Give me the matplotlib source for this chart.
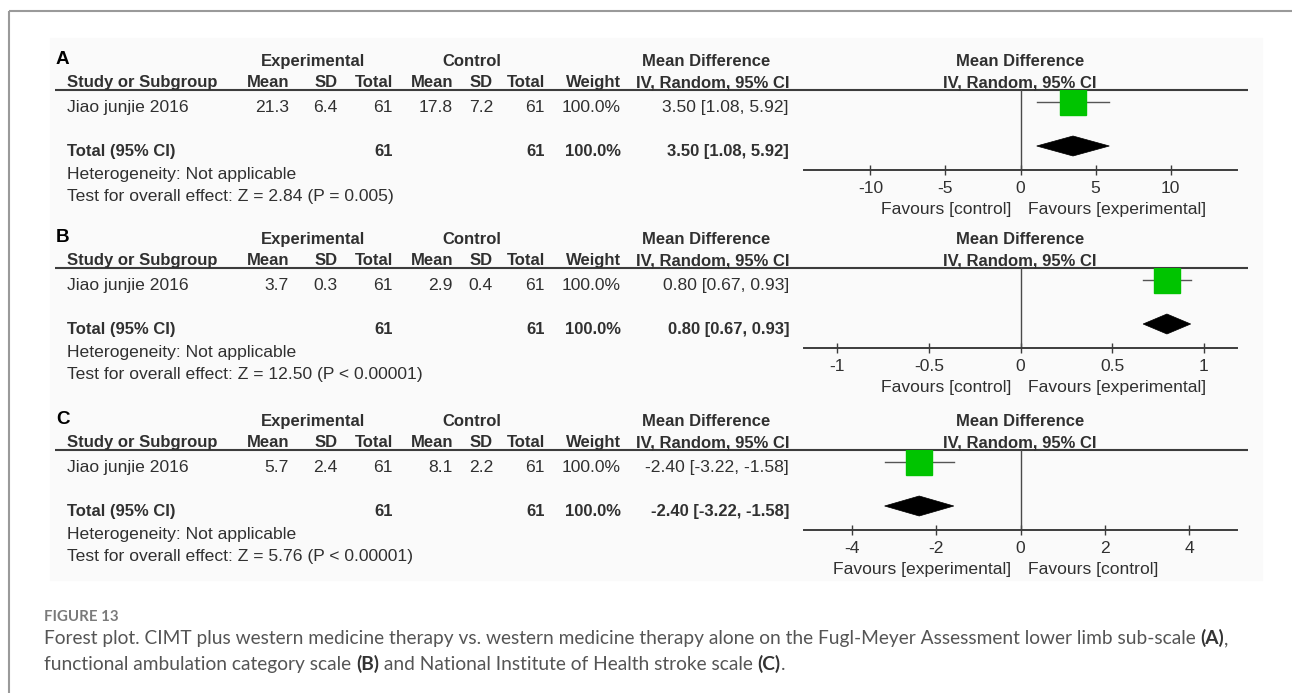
import matplotlib
matplotlib.use("Agg")
import matplotlib.pyplot as plt
from matplotlib.patches import Polygon, Rectangle

plt.rcParams["font.family"] = ["Liberation Sans", "DejaVu Sans"]

# ---- data: one row per outcome (A, B, C) ----
panel_ids = ["A", "B", "C"]
study = "Jiao junjie 2016"
exp_mean = [21.3, 3.7, 5.7]
exp_sd = [6.4, 0.3, 2.4]
exp_n = [61, 61, 61]
ctl_mean = [17.8, 2.9, 8.1]
ctl_sd = [7.2, 0.4, 2.2]
ctl_n = [61, 61, 61]
weight = [100.0, 100.0, 100.0]
md = [3.50, 0.80, -2.40]
ci_lo = [1.08, 0.67, -3.22]
ci_hi = [5.92, 0.93, -1.58]
overall = ["Z = 2.84 (P = 0.005)", "Z = 12.50 (P < 0.00001)", "Z = 5.76 (P < 0.00001)"]
tick_vals = [[-10, -5, 0, 5, 10], [-1, -0.5, 0, 0.5, 1], [-4, -2, 0, 2, 4]]
tick_txt = [["-10", "-5", "0", "5", "10"], ["-1", "-0.5", "0", "0.5", "1"], ["-4", "-2", "0", "2", "4"]]
x_half = [14.43, 1.183, 5.13]
fav_left = ["Favours [control]", "Favours [control]", "Favours [experimental]"]
fav_right = ["Favours [experimental]", "Favours [experimental]", "Favours [control]"]

caption_title = "FIGURE 13"
caption_1 = [("Forest plot. CIMT plus western medicine therapy vs. western medicine therapy alone on the "
              "Fugl-Meyer Assessment lower limb sub-scale ", False), ("(A)", True), (",", False)]
caption_2 = [("functional ambulation category scale ", False), ("(B)", True),
             (" and National Institute of Health stroke scale ", False), ("(C)", True), (".", False)]

# ---- layout (pixels) ----
W, H = 1292, 693
header_y = [90, 268, 450]
AX_L, AX_R = 804, 1237
AX_H = 80
TXT = "#303030"
LINE = "#3c3c3c"
GREEN = "#00c400"
FS = 12.6
FSB = 12.0

fig = plt.figure(figsize=(W / 100, H / 100), dpi=100)
base = fig.add_axes([0, 0, 1, 1])
base.set_xlim(0, W)
base.set_ylim(H, 0)
base.axis("off")

# page frame and light panel behind the forest plots
base.plot([9, 9], [11, H], color="#9a9a9a", lw=1.5, solid_capstyle="butt")
base.plot([9, W], [11, 11], color="#9a9a9a", lw=1.5, solid_capstyle="butt")
base.add_patch(Rectangle((50, 38), 1212, 542, color="#fafafa", zorder=0))


def put(x, y, s, ha="left", bold=False, size=None, color=TXT):
    base.text(x, y, s, ha=ha, va="baseline", color=color,
              fontsize=size or (FSB if bold else FS),
              fontweight="bold" if bold else "normal")


for i, h in enumerate(header_y):
    # letters and group titles
    put(56, h - 26, panel_ids[i], bold=True, size=13.6, color="black")
    put(313, h - 24, "Experimental", ha="center", bold=True)
    put(472, h - 24, "Control", ha="center", bold=True)
    put(706, h - 24, "Mean Difference", ha="center", bold=True)
    put(1020, h - 24, "Mean Difference", ha="center", bold=True)

    cols = [(67, "Study or Subgroup", "left"), (289, "Mean", "right"), (338, "SD", "right"),
            (393, "Total", "right"), (453, "Mean", "right"), (493, "SD", "right"),
            (545, "Total", "right"), (621, "Weight", "right"), (789, "IV, Random, 95% CI", "right")]
    for x, s, ha in cols:
        put(x, h - 3, s, ha=ha, bold=True)
    put(1020, h - 3, "IV, Random, 95% CI", ha="center", bold=True)
    base.plot([55, 1248], [h, h], color=LINE, lw=1.5, solid_capstyle="butt")

    ci_txt = f"{md[i]:.2f} [{ci_lo[i]:.2f}, {ci_hi[i]:.2f}]"
    # study row
    put(67, h + 22, study)
    put(289, h + 22, f"{exp_mean[i]:.1f}", ha="right")
    put(338, h + 22, f"{exp_sd[i]:.1f}", ha="right")
    put(393, h + 22, str(exp_n[i]), ha="right")
    put(453, h + 22, f"{ctl_mean[i]:.1f}", ha="right")
    put(493, h + 22, f"{ctl_sd[i]:.1f}", ha="right")
    put(545, h + 22, str(ctl_n[i]), ha="right")
    put(621, h + 22, f"{weight[i]:.1f}%", ha="right")
    put(789, h + 22, ci_txt, ha="right")
    # total row
    put(67, h + 66, "Total (95% CI)", bold=True)
    put(393, h + 66, str(exp_n[i]), ha="right", bold=True)
    put(545, h + 66, str(ctl_n[i]), ha="right", bold=True)
    put(621, h + 66, f"{weight[i]:.1f}%", ha="right", bold=True)
    put(789, h + 66, ci_txt, ha="right", bold=True)
    put(67, h + 89, "Heterogeneity: Not applicable")
    put(67, h + 111, "Test for overall effect: " + overall[i])

    # forest plot
    pa = fig.add_axes([AX_L / W, 1 - (h + AX_H) / H, (AX_R - AX_L) / W, AX_H / H])
    pa.set_xlim(-x_half[i], x_half[i])
    pa.set_ylim(AX_H, 0)
    pa.patch.set_alpha(0)
    for sp in ["top", "left", "right"]:
        pa.spines[sp].set_visible(False)
    pa.spines["bottom"].set_color(LINE)
    pa.spines["bottom"].set_linewidth(1.4)
    pa.set_yticks([])
    pa.set_xticks(tick_vals[i], tick_txt[i])
    pa.tick_params(axis="x", direction="inout", length=7.5, width=1.0, color=LINE,
                   labelsize=FS, labelcolor=TXT, pad=4.5)
    pa.axvline(0, color="#4a4a4a", lw=1.0)
    pa.plot([ci_lo[i], ci_hi[i]], [12, 12], color="#555555", lw=1.0)
    pa.plot([md[i]], [12], marker="s", ms=18.5, color=GREEN, mec=GREEN, ls="none")
    pa.add_patch(Polygon([[ci_lo[i], 56], [md[i], 46], [ci_hi[i], 56], [md[i], 66]],
                         closed=True, facecolor="black", edgecolor="black", lw=0.5))
    pa.annotate(fav_left[i], xy=(0, 124), xytext=(-6.5, 0), textcoords="offset points",
                ha="right", va="baseline", fontsize=FS, color=TXT, annotation_clip=False)
    pa.annotate(fav_right[i], xy=(0, 124), xytext=(5.5, 0), textcoords="offset points",
                ha="left", va="baseline", fontsize=FS, color=TXT, annotation_clip=False)

# caption
renderer = fig.canvas.get_renderer()
base.text(44, 621, caption_title, fontsize=10.8, fontweight="bold", color="#7a7a7a",
          family=["Lato", "DejaVu Sans"], va="baseline")


def rich_line(x, y, parts):
    for s, bold in parts:
        t = base.text(x, y, s, fontsize=13.8, va="baseline",
                      fontweight="bold" if bold else "normal",
                      color="#333333" if bold else "#555555",
                      family=["Lato", "DejaVu Sans"])
        x += t.get_window_extent(renderer=renderer).width


rich_line(44, 644, caption_1)
rich_line(44, 670, caption_2)

fig.savefig("out.png", dpi=100)
